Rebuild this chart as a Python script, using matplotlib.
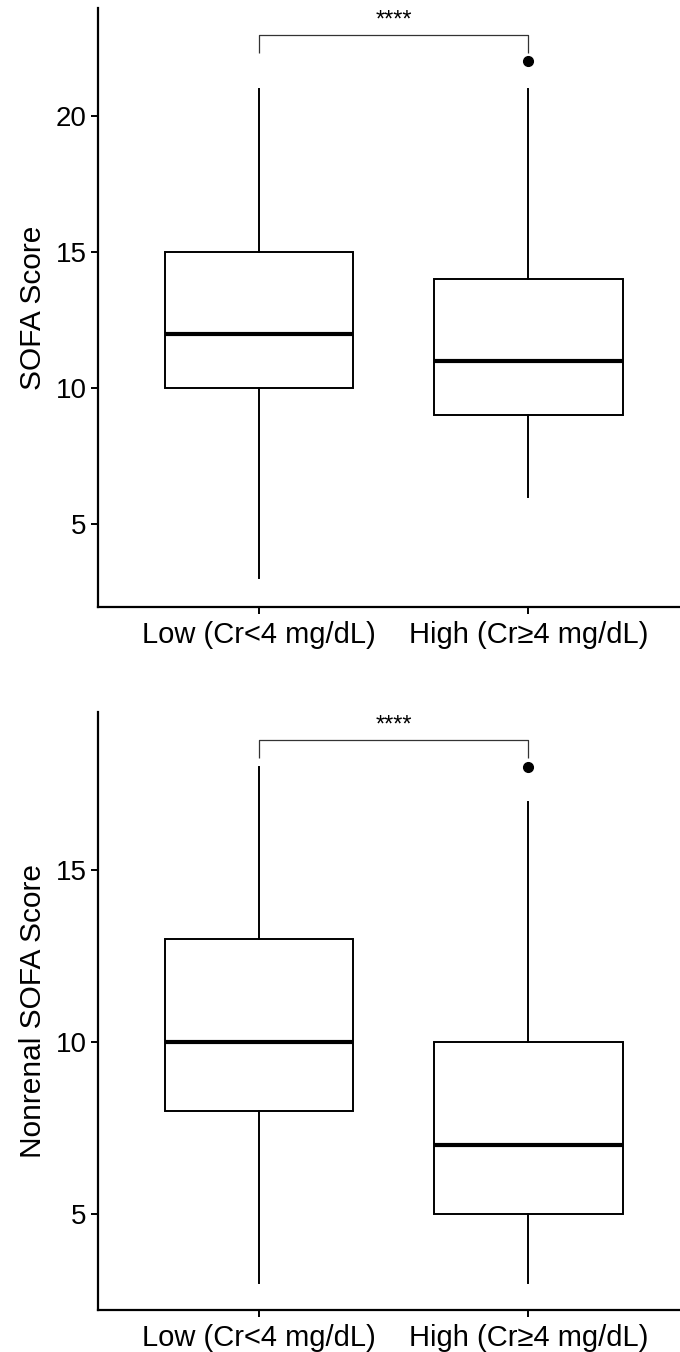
import matplotlib
matplotlib.use("Agg")
import matplotlib.pyplot as plt

plt.rcParams['font.family'] = ['Liberation Sans', 'DejaVu Sans']

categories = ["Low (Cr<4 mg/dL)", "High (Cr\u22654 mg/dL)"]

# Panel 1: SOFA Score
sofa_whislo = [3, 6]
sofa_q1 = [10, 9]
sofa_med = [12, 11]
sofa_q3 = [15, 14]
sofa_whishi = [21, 21]
sofa_fliers = [[], [22]]
sofa_ticks = [5, 10, 15, 20]
sofa_bracket = 22.98
sofa_ylim = (1.95, 23.95)

# Panel 2: Nonrenal SOFA Score
nr_whislo = [3, 3]
nr_q1 = [8, 5]
nr_med = [10, 7]
nr_q3 = [13, 10]
nr_whishi = [18, 17]
nr_fliers = [[], [18]]
nr_ticks = [5, 10, 15]
nr_bracket = 18.8
nr_ylim = (2.2, 19.6)

sig_label = "****"

W, H = 680, 1352
fig = plt.figure(figsize=(W / 100, H / 100), dpi=100)

def px_axes(x0, y0, x1, y1):
    return fig.add_axes([x0 / W, 1 - y1 / H, (x1 - x0) / W, (y1 - y0) / H])

def panel(ax, whislo, q1, med, q3, whishi, fliers, ticks, bracket, ylim, ylabel):
    stats = []
    for i in range(len(categories)):
        stats.append(dict(whislo=whislo[i], q1=q1[i], med=med[i], q3=q3[i],
                          whishi=whishi[i], fliers=fliers[i], label=categories[i]))
    ax.bxp(stats, positions=[1, 2], widths=0.7, showcaps=False, patch_artist=True,
           boxprops=dict(facecolor='white', edgecolor='black', linewidth=1.4),
           whiskerprops=dict(color='black', linewidth=1.4),
           medianprops=dict(color='black', linewidth=3.0),
           flierprops=dict(marker='o', markerfacecolor='black', markeredgecolor='black',
                           markersize=7))
    ax.set_xlim(0.4, 2.6)
    ax.set_ylim(*ylim)
    ax.set_yticks(ticks)
    ax.set_yticklabels([str(t) for t in ticks])
    ax.set_xticks([1, 2])
    ax.set_xticklabels(categories)
    for s in ['top', 'right']:
        ax.spines[s].set_visible(False)
    for s in ['left', 'bottom']:
        ax.spines[s].set_linewidth(1.6)
    ax.tick_params(axis='both', length=5, width=1.4, color='black', labelcolor='black')
    ax.tick_params(axis='y', labelsize=20, pad=3)
    ax.tick_params(axis='x', labelsize=21, pad=5)
    ax.set_ylabel(ylabel, fontsize=21.5, labelpad=6)
    rng = ylim[1] - ylim[0]
    tip = 0.03 * rng
    ax.plot([1, 1, 2, 2], [bracket - tip, bracket, bracket, bracket - tip],
            color='#333333', linewidth=0.9, solid_capstyle='butt')
    ax.text(1.5, bracket + 0.005 * rng, sig_label, ha='center', va='bottom', fontsize=17)

ax1 = px_axes(97.5, 8.3, 690, 607)
panel(ax1, sofa_whislo, sofa_q1, sofa_med, sofa_q3, sofa_whishi, sofa_fliers,
      sofa_ticks, sofa_bracket, sofa_ylim, "SOFA Score")

ax2 = px_axes(97.5, 712.3, 690, 1310)
panel(ax2, nr_whislo, nr_q1, nr_med, nr_q3, nr_whishi, nr_fliers,
      nr_ticks, nr_bracket, nr_ylim, "Nonrenal SOFA Score")

fig.savefig("out.png", dpi=100)
